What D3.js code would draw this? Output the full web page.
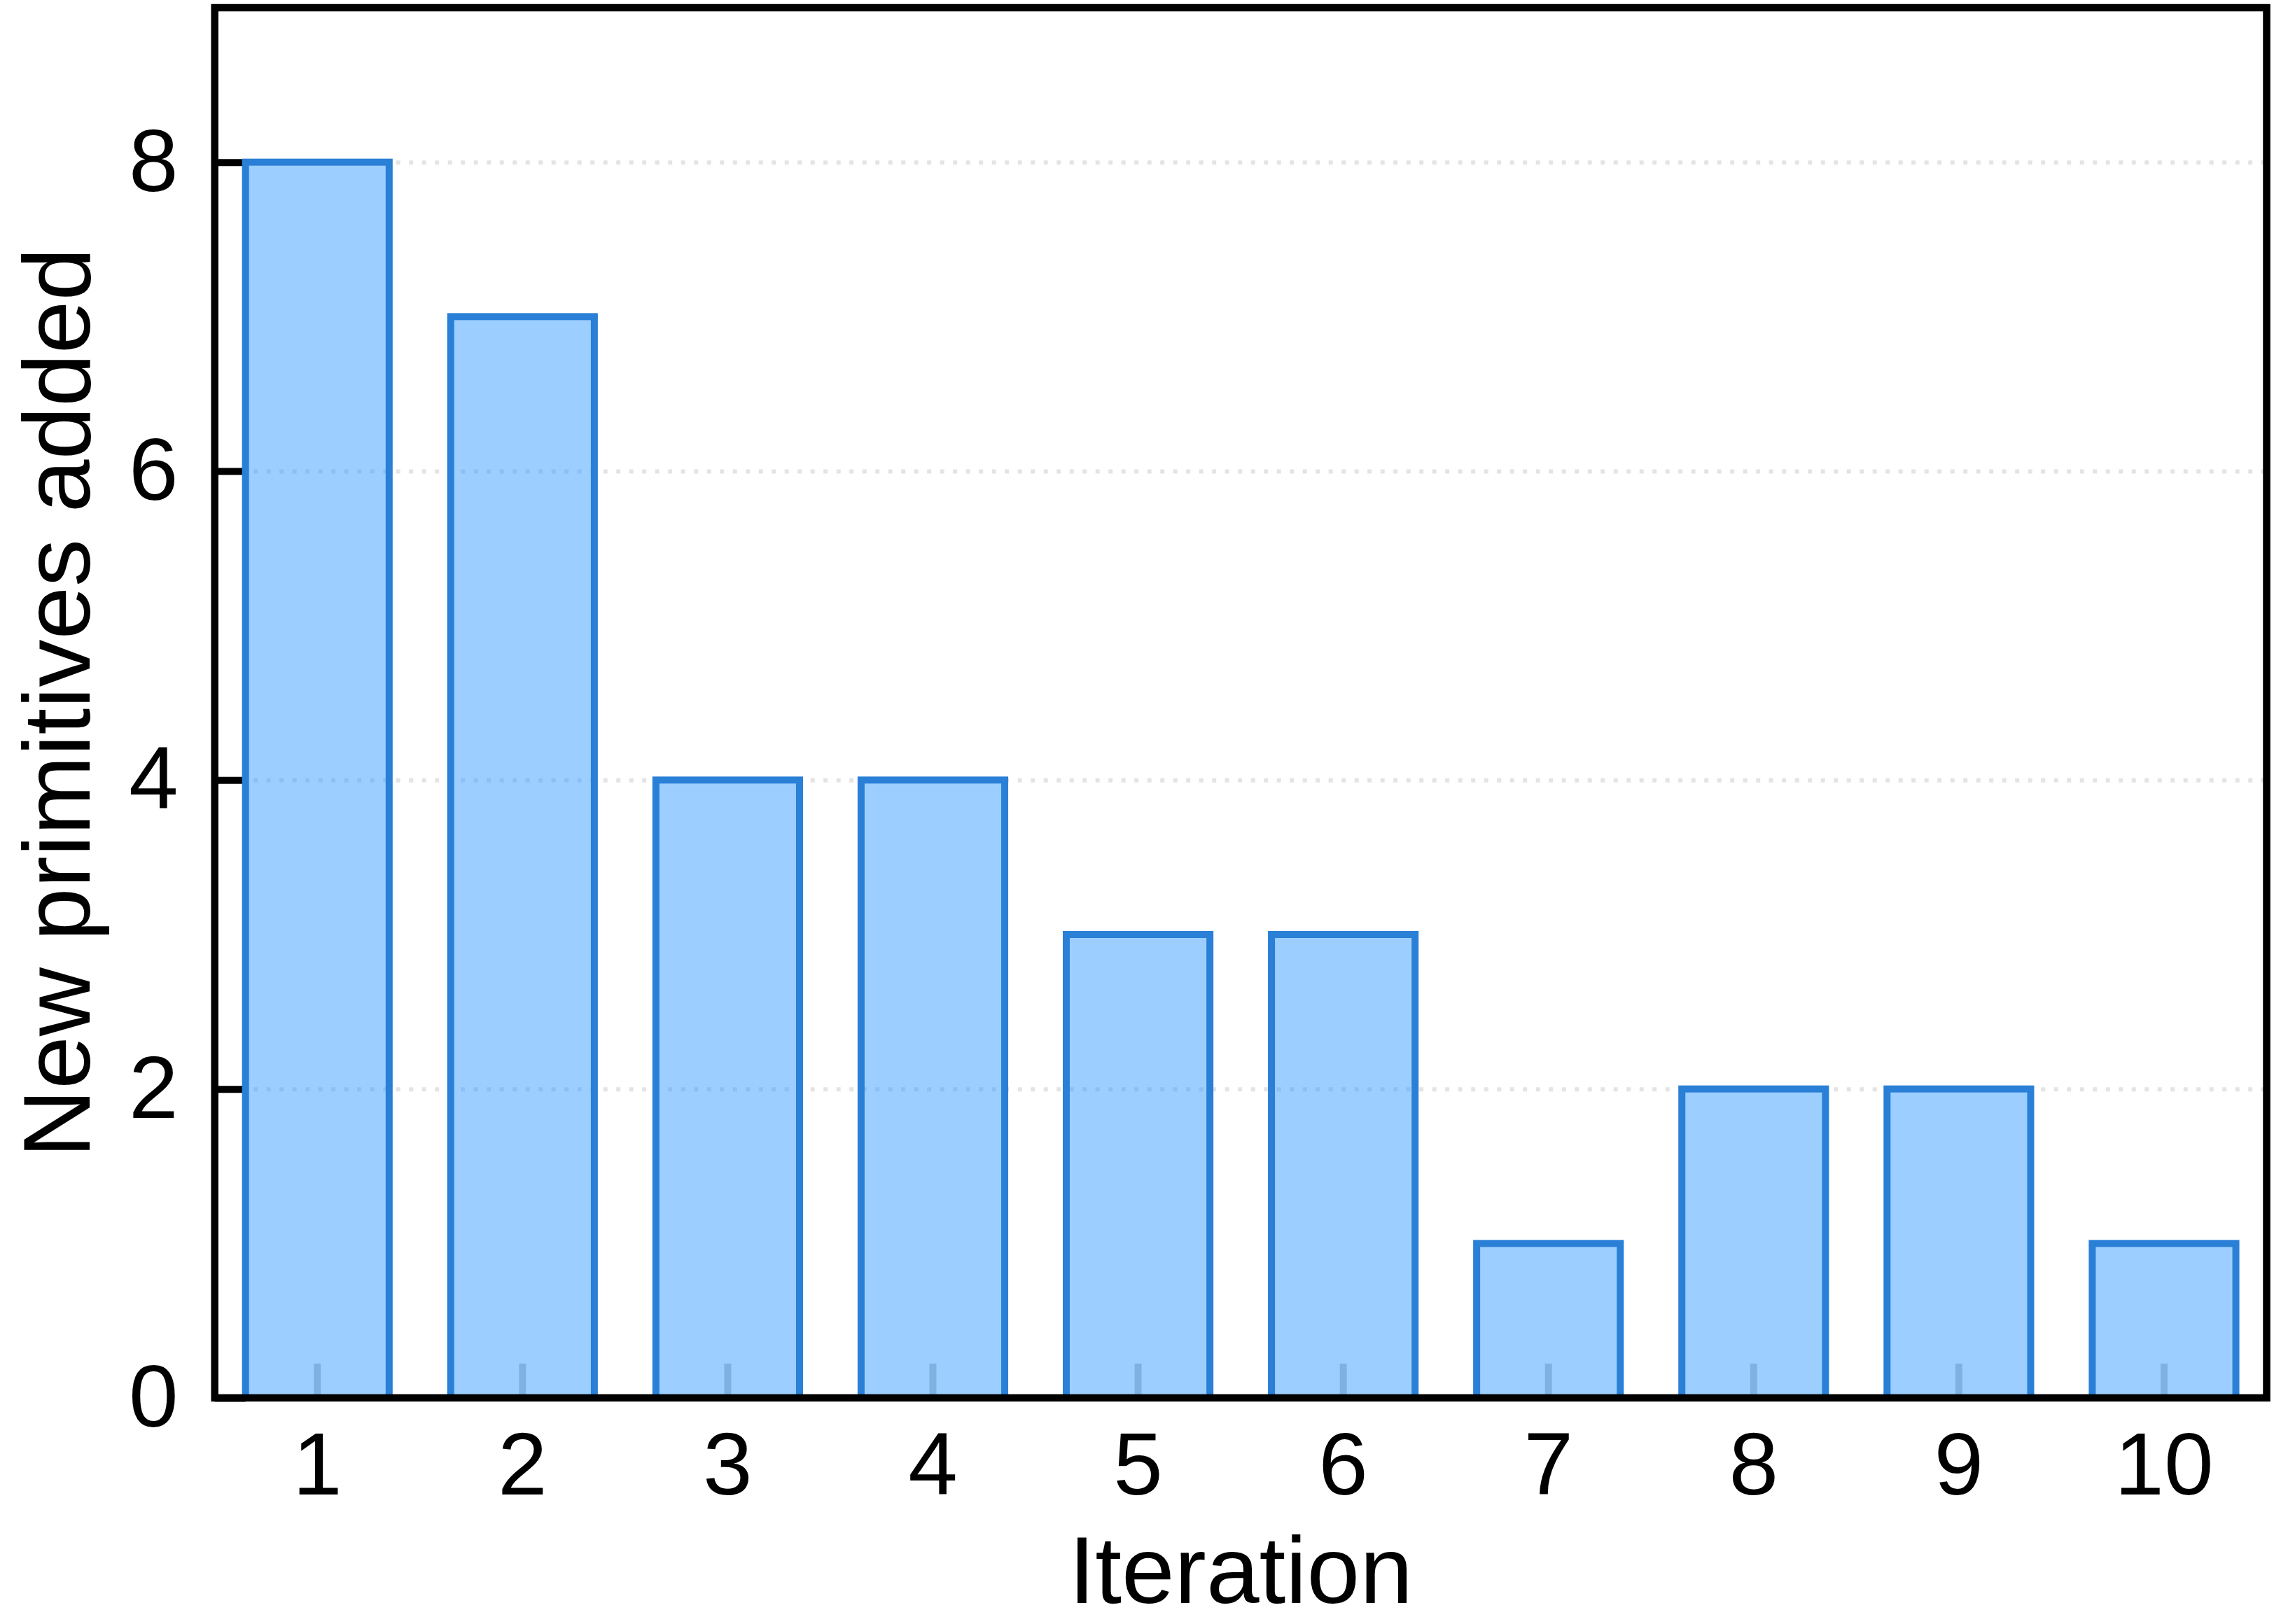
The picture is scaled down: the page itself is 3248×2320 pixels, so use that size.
<!DOCTYPE html>
<html>
<head>
<meta charset="utf-8">
<script src="https://cdn.jsdelivr.net/npm/d3@7"></script>
<style>
  html, body { margin: 0; padding: 0; background: #fff; }
  svg { display: block; font-family: "Liberation Sans", Arial, sans-serif; }
</style>
</head>
<body>
<div id="chart"></div>
<script>
// Data
var iterations = [1, 2, 3, 4, 5, 6, 7, 8, 9, 10];
var newPrimitives = [8, 7, 4, 4, 3, 3, 1, 2, 2, 1];
var yTickValues = [0, 2, 4, 6, 8];
var yMax = 9;

function createBarChart(containerId) {
  var w = 3248;
  var h = 2320;
  var margin = { top: 11, bottom: 323, left: 306.7, right: 10.5 };
  var width = w - margin.left - margin.right;
  var height = h - margin.top - margin.bottom;

  var svg = d3.select("#" + containerId)
    .append("svg")
    .attr("width", w)
    .attr("height", h);

  var g = svg.append("g")
    .attr("transform", "translate(" + margin.left + "," + margin.top + ")");

  // Scales
  var x = d3.scaleBand()
    .domain(iterations)
    .range([0, width])
    .paddingInner(0.3)
    .paddingOuter(0.15);

  var y = d3.scaleLinear()
    .domain([0, yMax])
    .range([height, 0]);

  // Dotted grid lines
  g.append("g")
    .attr("class", "grid")
    .call(d3.axisLeft(y).tickValues(yTickValues.slice(1)).tickSize(-width).tickFormat(""))
    .call(function(s) {
      s.select(".domain").remove();
      s.selectAll("line")
        .attr("stroke", "#e4e4e4")
        .attr("stroke-width", 6)
        .attr("stroke-dasharray", "6,12.5");
    });

  // X axis (inward ticks, light)
  g.append("g")
    .attr("class", "x-axis")
    .attr("transform", "translate(0," + height + ")")
    .call(d3.axisBottom(x).tickSize(-49).tickPadding(48))
    .call(function(s) {
      s.select(".domain").remove();
      s.selectAll("line").attr("stroke", "#cccccc").attr("stroke-width", 10);
      s.selectAll("text")
        .attr("fill", "#000")
        .style("font-size", "127px");
    });

  // Y axis (inward ticks)
  g.append("g")
    .attr("class", "y-axis")
    .call(d3.axisLeft(y).tickValues(yTickValues).tickSize(-44).tickPadding(52))
    .call(function(s) {
      s.select(".domain").remove();
      s.selectAll("line").attr("stroke", "#000").attr("stroke-width", 10);
      s.selectAll("text")
        .attr("fill", "#000")
        .style("font-size", "127px");
    });

  // Bars
  g.selectAll(".bar")
    .data(newPrimitives)
    .enter().append("rect")
    .attr("class", "bar")
    .attr("x", function(d, i) { return x(iterations[i]); })
    .attr("y", function(d) { return y(d); })
    .attr("width", x.bandwidth())
    .attr("height", function(d) { return height - y(d); })
    .attr("fill", "rgb(30,144,255)")
    .attr("fill-opacity", 0.44)
    .attr("stroke", "#2a7fd6")
    .attr("stroke-width", 10);

  // Frame
  g.append("rect")
    .attr("x", 0)
    .attr("y", 0)
    .attr("width", width)
    .attr("height", height)
    .attr("fill", "none")
    .attr("stroke", "#000")
    .attr("stroke-width", 10.5);

  // Axis titles
  svg.append("text")
    .attr("x", margin.left + width / 2)
    .attr("y", 2290)
    .attr("text-anchor", "middle")
    .style("font-size", "136px")
    .text("Iteration");

  svg.append("text")
    .attr("transform", "translate(128," + (margin.top + height / 2) + ") rotate(-90)")
    .attr("text-anchor", "middle")
    .style("font-size", "136px")
    .text("New primitives added");
}

createBarChart("chart");
</script>
</body>
</html>
